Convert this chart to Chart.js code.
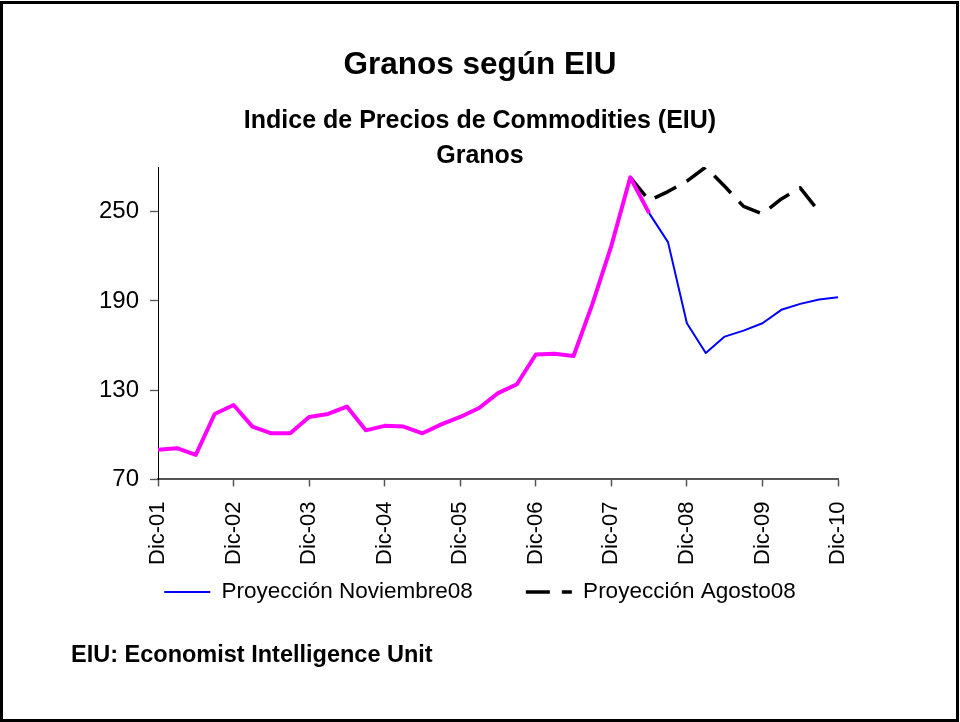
<!DOCTYPE html>
<html lang="es">
<head>
<meta charset="utf-8">
<title>Granos según EIU</title>
<script src="https://cdn.jsdelivr.net/npm/chart.js@4.4.1/dist/chart.umd.min.js"></script>
<style>
  html, body { margin: 0; padding: 0; background: #fff; }
  #frame { position: relative; width: 960px; height: 722px; }
  #frame canvas { position: absolute; left: 0; top: 0; }
  #border { position: absolute; left: 0; top: 1px; width: 959px; height: 721px; box-sizing: border-box; border: 3px solid #000; pointer-events: none; }
  #source { position: absolute; left: 71px; top: 642px; font: bold 23.5px/24px "Liberation Sans", Arial, sans-serif; color: #000; white-space: nowrap; }
</style>
</head>
<body>
<div id="frame">
  <canvas id="chart"></canvas>
  <div id="source">EIU: Economist Intelligence Unit</div>
  <div id="border"></div>
</div>
<script>
// Trimestres, Dic-01 a Dic-10
const quarters = [
  'Dic-01', 'Mar-02', 'Jun-02', 'Sep-02', 'Dic-02', 'Mar-03', 'Jun-03', 'Sep-03',
  'Dic-03', 'Mar-04', 'Jun-04', 'Sep-04', 'Dic-04', 'Mar-05', 'Jun-05', 'Sep-05',
  'Dic-05', 'Mar-06', 'Jun-06', 'Sep-06', 'Dic-06', 'Mar-07', 'Jun-07', 'Sep-07',
  'Dic-07', 'Mar-08', 'Jun-08', 'Sep-08', 'Dic-08', 'Mar-09', 'Jun-09', 'Sep-09',
  'Dic-09', 'Mar-10', 'Jun-10', 'Sep-10', 'Dic-10'
];
const tickLabels = ['Dic-01', 'Dic-02', 'Dic-03', 'Dic-04', 'Dic-05', 'Dic-06', 'Dic-07', 'Dic-08', 'Dic-09', 'Dic-10'];
const yTicks = [70, 130, 190, 250];

// Historico (magenta)
const historico = [
  90, 91, 86.5, 114, 120, 105.5, 101, 101,
  112, 114, 119, 103, 106, 105.5, 101, 107,
  112, 118, 128, 134, 154, 154.5, 153, 188,
  227, 273, 249, null, null, null, null, null,
  null, null, null, null, null
];
// Proyeccion Noviembre08 (azul)
const proyNov08 = [
  null, null, null, null, null, null, null, null,
  null, null, null, null, null, null, null, null,
  null, null, null, null, null, null, null, null,
  null, null, 249, 229.5, 175, 155, 166, 170,
  175, 184, 188, 191, 192.5
];
// Proyeccion Agosto08 (negro, discontinua)
const proyAgo08 = [
  null, null, null, null, null, null, null, null,
  null, null, null, null, null, null, null, null,
  null, null, null, null, null, null, null, null,
  null, 273, 257.5, 263.5, 270.5, 280, 267, 253.5,
  248.5, 258.5, 266, 250, null
];

const FONT = '"Liberation Sans", Arial, Helvetica, sans-serif';
Chart.defaults.font.family = FONT;
Chart.defaults.color = '#000';

// legend padding also sets the gap between the two items; pull the row back up under the axis
const legendLift = {
  id: 'legendLift',
  afterLayout(chart) {
    chart.legend.top -= 52.25;
    chart.legend.bottom -= 52.25;
  }
};

new Chart(document.getElementById('chart'), {
  type: 'line',
  data: {
    labels: quarters,
    datasets: [
      { label: 'Histórico', data: historico, borderColor: '#ff00ff', borderWidth: 4 },
      { label: 'Proyección Noviembre08', data: proyNov08, borderColor: '#0000ff', borderWidth: 2 },
      { label: 'Proyección Agosto08', data: proyAgo08, borderColor: '#000000', borderWidth: 3.5, borderDash: [24, 12] }
    ]
  },
  options: {
    responsive: true,
    maintainAspectRatio: false,
    animation: false,
    layout: { padding: { left: 0, right: 0, top: 0, bottom: 56.5 } },
    elements: {
      point: { radius: 0, hoverRadius: 0 },
      line: { tension: 0, borderJoinStyle: 'round', fill: false }
    },
    plugins: {
      title: {
        display: true,
        text: 'Granos según EIU',
        color: '#000',
        font: { size: 31.5, weight: 'bold' },
        padding: { top: 46.6, bottom: 0 }
      },
      subtitle: {
        display: true,
        text: ['Indice de Precios de Commodities (EIU)', 'Granos'],
        color: '#000',
        font: { size: 25, weight: 'bold', lineHeight: 1.4 },
        padding: { top: 18.9, bottom: -6.3 }
      },
      legend: {
        position: 'bottom',
        labels: {
          // point style drops the dataset's dash, so copy it back
          generateLabels: chart => Chart.defaults.plugins.legend.labels.generateLabels(chart).map(item => {
            const ds = chart.data.datasets[item.datasetIndex];
            return { ...item, lineDash: ds.borderDash || [], lineWidth: ds.borderWidth };
          }),
          filter: item => item.datasetIndex !== 0,
          usePointStyle: true,
          pointStyle: 'line',
          pointStyleWidth: 46,
          padding: 53,
          color: '#000',
          font: { size: 22.5 }
        }
      },
      tooltip: { enabled: false }
    },
    scales: {
      x: {
        type: 'category',
        grid: { drawOnChartArea: false, tickLength: 7, tickColor: '#555', tickWidth: 1.5 },
        border: { color: '#555', width: 2 },
        ticks: { autoSkip: false, minRotation: 90, maxRotation: 90, padding: 15, color: '#000', font: { size: 22 } },
        afterBuildTicks: axis => {
          axis.ticks = axis.ticks.filter(t => tickLabels.includes(quarters[t.value]));
        }
      },
      y: {
        min: 70,
        max: 280,
        afterBuildTicks: axis => {
          axis.ticks = yTicks.map(v => ({ value: v }));
        },
        grid: { drawOnChartArea: false, tickLength: 8, tickColor: '#555', tickWidth: 1.3 },
        border: { color: '#000', width: 1 },
        ticks: { padding: 11, color: '#000', font: { size: 24 } },
        afterFit: axis => { axis.width = 158; }
      },
      yRight: {
        position: 'right',
        grid: { display: false },
        border: { display: false },
        ticks: { display: false },
        afterFit: axis => { axis.width = 122; }
      }
    }
  },
  plugins: [legendLift]
});
</script>
</body>
</html>
